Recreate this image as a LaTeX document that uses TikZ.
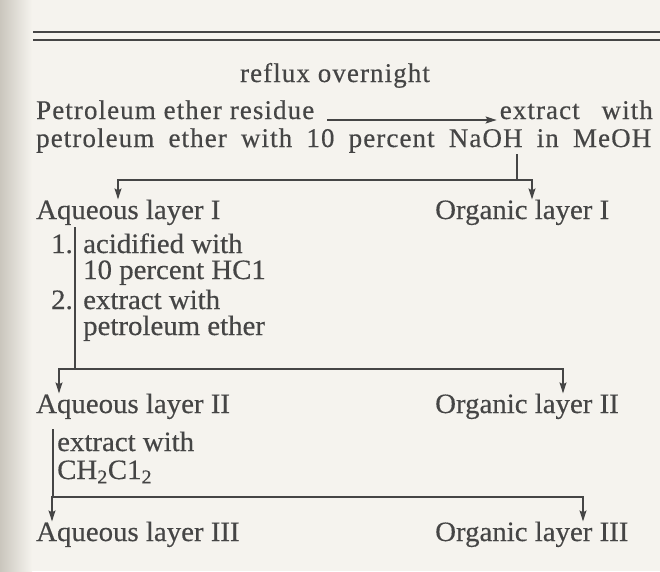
\documentclass[tikz,border=0pt]{standalone}
\usepackage{fontspec}
\usepackage{tikz}
\usepackage{xcolor}
\usetikzlibrary{calc,arrows.meta}
\setmainfont{Liberation Serif}[FakeStretch=1.03,FakeBold=0.4]
\newfontfamily\spacedfont{Liberation Serif}[LetterSpace=4,FakeBold=0.4]
\definecolor{inkcolor}{HTML}{454545}
\definecolor{papercolor}{HTML}{F5F3EE}
\definecolor{guttercolor}{HTML}{CAC6BD}
\tikzstyle{phrase} = [
    text=inkcolor,
    font=\fontsize{28}{30}\selectfont,
    inner sep=0pt,
    anchor=base west
    ]
\tikzstyle{spacedphrase} = [
    phrase,
    font=\spacedfont\fontsize{27}{30}\selectfont
    ]
\tikzstyle{flowline} = [
    draw=inkcolor,
    line width=1.2pt
    ]
\tikzstyle{flowarrow} = [
    flowline,
    -{Stealth[length=11pt,width=7pt,inset=2pt]}
    ]

\begin{document}
\begin{tikzpicture}[x=1pt,y=-1pt]
% page and gutter
\fill[papercolor] (0,0) rectangle (660,571);
\shade[left color=guttercolor, right color=papercolor] (0,0) rectangle (32,571);
\useasboundingbox (0,0) rectangle (660,571);
% double rule
\draw[flowline] (33,32) -- (660,32);
\draw[flowline] (33,40) -- (660,40);

% reaction
\node[spacedphrase, anchor=base] (reflux) at (335,82) {reflux overnight};
\node[spacedphrase] (residue) at (36,119) {Petroleum ether residue};
\node[spacedphrase, anchor=base east] (extract) at (653,119) {\makebox[153pt][s]{extract with}};
\node[spacedphrase] (solvent) at (36,147) {\makebox[615pt][s]{petroleum ether with 10 percent NaOH in MeOH}};
\draw[flowarrow] ([xshift=13pt,yshift=-1pt]residue.base east) -- ([xshift=-3pt,yshift=-1pt]extract.base west);
\coordinate (naoh) at (517,154);

% first separation
\coordinate (fork1) at (517,180);
\node[phrase] (aq1) at (36,219) {Aqueous layer I};
\node[phrase] (org1) at (435,219) {Organic layer I};
\draw[flowline] (naoh) -- (fork1);
\draw[flowarrow] (fork1) -| ([xshift=82pt]aq1.north west);
\draw[flowarrow] (fork1) -| ([xshift=97pt]org1.north west);

% acidify and extract
\node[phrase, anchor=base east] (num1) at (73,253) {1.};
\node[phrase] (acid) at (83,253) {acidified with};
\node[phrase] (hcl) at (83,279) {10 percent HC1};
\node[phrase, anchor=base east] (num2) at (73,309) {2.};
\node[phrase] (ext2) at (83,309) {extract with};
\node[phrase] (pet) at (83,335) {petroleum ether};
\coordinate (fork2) at (75,369);
\node[phrase] (aq2) at (36,413) {Aqueous layer II};
\node[phrase] (org2) at (435,413) {Organic layer II};
\draw[flowline] ([xshift=39pt,yshift=-2pt]aq1.south west) -- (fork2);
\draw[flowarrow] (fork2) -| ([xshift=23pt]aq2.north west);
\draw[flowarrow] (fork2) -| ([xshift=128pt]org2.north west);

% methylene chloride
\node[phrase] (ext3) at (57,451) {extract with};
\node[phrase] (dcm) at (57,479) {CH\textsubscript{2}C1\textsubscript{2}};
\coordinate (fork3) at (53,497);
\node[phrase] (aq3) at (36,541) {Aqueous layer III};
\node[phrase] (org3) at (435,541) {Organic layer III};
\draw[flowline] ([xshift=17pt,yshift=-10pt]aq2.south west) -- (fork3);
\draw[flowarrow] (fork3) -| ([xshift=16pt]aq3.north west);
\draw[flowarrow] (fork3) -| ([xshift=148pt]org3.north west);
\end{tikzpicture}
\end{document}
